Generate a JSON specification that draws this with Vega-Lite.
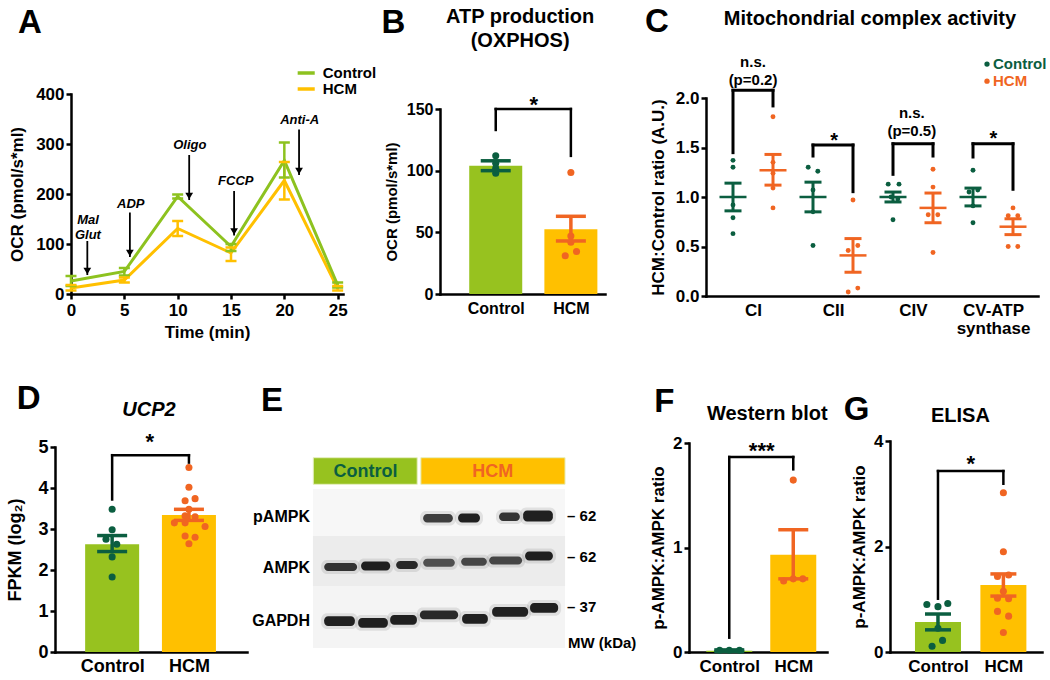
{
"$schema": "https://vega.github.io/schema/vega-lite/v6.json",
"padding": {"left": 6, "top": 5, "right": 0, "bottom": 0},
"background": "white",
"bounds": "flush",
"spacing": 346,
"resolve": {"scale": {"color": "independent", "fill": "independent", "opacity": "independent"}},
"datasets": {
"A": [
{"t":0,"group":"HCM","m":12,"lo":7,"hi":18},
{"t":5,"group":"HCM","m":28,"lo":23,"hi":33},
{"t":10,"group":"HCM","m":131,"lo":116,"hi":146},
{"t":15,"group":"HCM","m":82,"lo":66,"hi":93},
{"t":20,"group":"HCM","m":227,"lo":189,"hi":264},
{"t":25,"group":"HCM","m":11,"lo":7,"hi":16},
{"t":0,"group":"Control","m":26,"lo":16,"hi":36},
{"t":5,"group":"Control","m":45,"lo":37,"hi":52},
{"t":10,"group":"Control","m":195,"lo":191,"hi":199},
{"t":15,"group":"Control","m":95,"lo":86,"hi":100},
{"t":20,"group":"Control","m":267,"lo":233,"hi":303},
{"t":25,"group":"Control","m":18,"lo":13,"hi":23}
],
"A_arr": [
{"t":1.53,"top":106,"tip":38},{"t":5.52,"top":163,"tip":74},{"t":11.08,"top":278,"tip":188},{"t":15.29,"top":206,"tip":117},{"t":21.38,"top":329,"tip":238}
],
"A_lab": [
{"t":1.59,"y":149,"label":"Mal"},{"t":1.59,"y":119,"label":"Glut"},{"t":5.6,"y":181,"label":"ADP"},{"t":11.14,"y":298,"label":"Oligo"},{"t":15.45,"y":226,"label":"FCCP"},{"t":21.44,"y":349,"label":"Anti-A"}
],
"B_bar": [{"g":1,"group":"Control","m":104,"lo":100,"hi":108},{"g":2,"group":"HCM","m":52.5,"lo":43,"hi":63}],
"B_pts": [
{"g":1,"group":"Control","v":112},{"g":1,"group":"Control","v":106},{"g":1,"group":"Control","v":102},{"g":1,"group":"Control","v":98},
{"g":2,"group":"HCM","v":98.5},{"g":2,"group":"HCM","v":47},{"g":2,"group":"HCM","v":42},{"g":2.075,"group":"HCM","v":34.5},{"g":1.925,"group":"HCM","v":31}
],
"B_br": [{"x":1,"x2":1,"y":133,"y2":150},{"x":1,"x2":2,"y":150,"y2":150},{"x":2,"x2":2,"y":150,"y2":112}],
"C_sum": [
{"x":1,"group":"Control","m":1.0,"lo":0.86,"hi":1.14},{"x":2,"group":"HCM","m":1.27,"lo":1.12,"hi":1.43},
{"x":3,"group":"Control","m":1.0,"lo":0.85,"hi":1.15},{"x":4,"group":"HCM","m":0.41,"lo":0.24,"hi":0.58},
{"x":5,"group":"Control","m":1.0,"lo":0.95,"hi":1.05},{"x":6,"group":"HCM","m":0.89,"lo":0.74,"hi":1.04},
{"x":7,"group":"Control","m":1.0,"lo":0.91,"hi":1.09},{"x":8,"group":"HCM","m":0.70,"lo":0.62,"hi":0.78}
],
"C_pts": [
{"x":1,"group":"Control","v":1.37},{"x":1,"group":"Control","v":1.30},{"x":1,"group":"Control","v":0.92},{"x":1,"group":"Control","v":0.79},{"x":1,"group":"Control","v":0.63},
{"x":2,"group":"HCM","v":1.81},{"x":2,"group":"HCM","v":1.35},{"x":2,"group":"HCM","v":1.24},{"x":2,"group":"HCM","v":1.09},{"x":2,"group":"HCM","v":0.89},
{"x":2.88,"group":"Control","v":1.30},{"x":3.12,"group":"Control","v":1.26},{"x":3,"group":"Control","v":1.07},{"x":3,"group":"Control","v":0.85},{"x":3,"group":"Control","v":0.51},
{"x":4,"group":"HCM","v":0.97},{"x":4.12,"group":"HCM","v":0.51},{"x":3.88,"group":"HCM","v":0.46},{"x":4.12,"group":"HCM","v":0.08},{"x":3.88,"group":"HCM","v":0.04},
{"x":4.88,"group":"Control","v":1.13},{"x":5.15,"group":"Control","v":1.13},{"x":4.95,"group":"Control","v":1.0},{"x":5.12,"group":"Control","v":0.98},{"x":5,"group":"Control","v":0.77},
{"x":6,"group":"HCM","v":1.28},{"x":6,"group":"HCM","v":1.10},{"x":5.88,"group":"HCM","v":0.82},{"x":6.12,"group":"HCM","v":0.82},{"x":6,"group":"HCM","v":0.44},
{"x":7,"group":"Control","v":1.27},{"x":6.9,"group":"Control","v":1.05},{"x":7.12,"group":"Control","v":1.07},{"x":7,"group":"Control","v":0.91},{"x":7,"group":"Control","v":0.74},
{"x":8,"group":"HCM","v":0.89},{"x":7.88,"group":"HCM","v":0.81},{"x":8.12,"group":"HCM","v":0.81},{"x":7.88,"group":"HCM","v":0.50},{"x":8.12,"group":"HCM","v":0.50}
],
"C_br": [
{"x":1,"x2":1,"y":1.448,"y2":2.078},{"x":1,"x2":2,"y":2.078,"y2":2.078},{"x":2,"x2":2,"y":2.078,"y2":1.92},
{"x":3,"x2":3,"y":1.414,"y2":1.525},{"x":3,"x2":4,"y":1.525,"y2":1.525},{"x":4,"x2":4,"y":1.525,"y2":1.054},
{"x":5,"x2":5,"y":1.229,"y2":1.538},{"x":5,"x2":6,"y":1.538,"y2":1.538},{"x":6,"x2":6,"y":1.538,"y2":1.414},
{"x":7,"x2":7,"y":1.404,"y2":1.538},{"x":7,"x2":8,"y":1.538,"y2":1.538},{"x":8,"x2":8,"y":1.538,"y2":1.078}
],
"D_bar": [{"g":1,"group":"Control","m":2.63,"lo":2.45,"hi":2.84},{"g":2,"group":"HCM","m":3.34,"lo":3.21,"hi":3.48}],
"D_pts": [
{"g":1,"group":"Control","v":3.48},{"g":1,"group":"Control","v":2.98},{"g":0.92,"group":"Control","v":2.75},{"g":1.06,"group":"Control","v":2.63},{"g":1,"group":"Control","v":2.32},{"g":1,"group":"Control","v":1.83},
{"g":2,"group":"HCM","v":4.50},{"g":2,"group":"HCM","v":4.02},{"g":2.08,"group":"HCM","v":3.74},{"g":1.95,"group":"HCM","v":3.69},{"g":2,"group":"HCM","v":3.48},{"g":1.95,"group":"HCM","v":3.32},{"g":2.08,"group":"HCM","v":3.30},{"g":1.81,"group":"HCM","v":3.15},{"g":1.95,"group":"HCM","v":3.15},{"g":2.21,"group":"HCM","v":3.06},{"g":1.95,"group":"HCM","v":2.83},{"g":2.08,"group":"HCM","v":2.80},{"g":2,"group":"HCM","v":2.64}
],
"D_br": [{"x":1,"x2":1,"y":3.72,"y2":4.80},{"x":1,"x2":2,"y":4.80,"y2":4.80},{"x":2,"x2":2,"y":4.80,"y2":4.62}],
"F_bar": [{"g":1,"group":"Control","m":0.012,"lo":0.005,"hi":0.02},{"g":2,"group":"HCM","m":0.93,"lo":0.70,"hi":1.17}],
"F_pts": [
{"g":0.85,"group":"Control","v":0.016},{"g":1,"group":"Control","v":0.016},{"g":1.16,"group":"Control","v":0.016},
{"g":2,"group":"HCM","v":1.645},{"g":1.85,"group":"HCM","v":0.68},{"g":2.15,"group":"HCM","v":0.70},{"g":2,"group":"HCM","v":0.70}
],
"F_br": [{"x":1,"x2":1,"y":0.137,"y2":1.866},{"x":1,"x2":2,"y":1.866,"y2":1.866},{"x":2,"x2":2,"y":1.866,"y2":1.748}],
"G_bar": [{"g":1,"group":"Control","m":0.57,"lo":0.42,"hi":0.72},{"g":2,"group":"HCM","m":1.27,"lo":1.06,"hi":1.48}],
"G_pts": [
{"g":0.83,"group":"Control","v":0.90},{"g":1,"group":"Control","v":0.86},{"g":1.15,"group":"Control","v":0.92},{"g":1,"group":"Control","v":0.45},{"g":1.07,"group":"Control","v":0.22},{"g":0.91,"group":"Control","v":0.11},
{"g":2,"group":"HCM","v":3.02},{"g":2,"group":"HCM","v":1.90},{"g":1.91,"group":"HCM","v":1.43},{"g":2.08,"group":"HCM","v":1.46},{"g":2,"group":"HCM","v":1.15},{"g":1.91,"group":"HCM","v":1.02},{"g":2.08,"group":"HCM","v":1.01},{"g":1.91,"group":"HCM","v":0.77},{"g":2.08,"group":"HCM","v":0.68},{"g":2,"group":"HCM","v":0.37}
],
"G_br": [{"x":1,"x2":1,"y":1.01,"y2":3.43},{"x":1,"x2":2,"y":3.43,"y2":3.43},{"x":2,"x2":2,"y":3.43,"y2":3.19}],
"E_bg": [
{"sec":"pAMPK","x0":0.18,"x1":7.82,"y0":23.1,"y1":45.3},
{"sec":"AMPK","x0":0.18,"x1":7.82,"y0":45.3,"y1":68.9},
{"sec":"GAPDH","x0":0.18,"x1":7.82,"y0":68.9,"y1":98.1}
],
"E_hdr": [
{"group":"Control","x0":0.19,"x1":3.34,"y0":8.35,"y1":20.9,"xc":1.77},
{"group":"HCM","x0":3.45,"x1":7.82,"y0":8.35,"y1":20.9,"xc":5.63}
],
"E_bands": [
{"row":"pAMPK","x0":3.52,"x1":4.42,"y0":34.9,"y1":38.9,"i":0.8},
{"row":"pAMPK","x0":4.58,"x1":5.24,"y0":34.7,"y1":38.9,"i":0.95},
{"row":"pAMPK","x0":5.82,"x1":6.45,"y0":34.2,"y1":38.2,"i":0.85},
{"row":"pAMPK","x0":6.55,"x1":7.45,"y0":33.2,"y1":38.4,"i":0.95},
{"row":"AMPK","x0":0.52,"x1":1.52,"y0":58.0,"y1":61.8,"i":0.85},
{"row":"AMPK","x0":1.64,"x1":2.52,"y0":57.3,"y1":61.5,"i":0.95},
{"row":"AMPK","x0":2.70,"x1":3.36,"y0":57.1,"y1":60.9,"i":0.9},
{"row":"AMPK","x0":3.52,"x1":4.48,"y0":56.0,"y1":59.8,"i":0.7},
{"row":"AMPK","x0":4.67,"x1":5.45,"y0":55.5,"y1":59.3,"i":0.75},
{"row":"AMPK","x0":5.52,"x1":6.52,"y0":54.9,"y1":58.7,"i":0.75},
{"row":"AMPK","x0":6.61,"x1":7.45,"y0":52.6,"y1":56.8,"i":0.95},
{"row":"GAPDH","x0":0.52,"x1":1.45,"y0":83.1,"y1":87.7,"i":0.95},
{"row":"GAPDH","x0":1.55,"x1":2.45,"y0":84.0,"y1":88.6,"i":0.95},
{"row":"GAPDH","x0":2.52,"x1":3.33,"y0":82.6,"y1":87.2,"i":0.95},
{"row":"GAPDH","x0":3.42,"x1":4.58,"y0":80.4,"y1":84.6,"i":0.9},
{"row":"GAPDH","x0":4.70,"x1":5.48,"y0":82.1,"y1":86.7,"i":0.95},
{"row":"GAPDH","x0":5.61,"x1":6.70,"y0":78.8,"y1":83.4,"i":0.95},
{"row":"GAPDH","x0":6.76,"x1":7.61,"y0":76.9,"y1":81.5,"i":0.95}
]
},
"vconcat": [
{"bounds": "flush", "spacing": 0, "resolve": {"scale": {"color": "independent", "fill": "independent", "opacity": "independent"}}, "hconcat": [
 {"width": 16, "height": 10, "data": {"values": [{"a": 1}]}, "mark": {"type": "text", "text": ""}, "encoding": {}},
 {"width": 369, "height": 200, "layer": [
  {"data": {"name": "A"}, "mark": {"type": "line", "strokeWidth": 3},
   "encoding": {
    "x": {"field": "t", "type": "quantitative", "scale": {"domain": [0, 25.5], "range": [0, 272], "nice": false, "zero": false}, "axis": {"values": [0,5,10,15,20,25], "labelExpr": "toString(datum.value)", "title": "Time (min)", "labelFontSize": 17, "titleFontSize": 17, "labelPadding": 3, "titlePadding": 6}},
    "y": {"field": "m", "type": "quantitative", "scale": {"domain": [0, 400], "range": [200, 0], "nice": false}, "axis": {"values": [0,100,200,300,400], "labelExpr": "toString(datum.value)", "title": "OCR (pmol/s*ml)", "labelFontSize": 17, "titleFontSize": 17, "titlePadding": 9}},
    "color": {"field": "group", "type": "nominal", "scale": {"domain": ["Control", "HCM"], "range": ["#8dc21f", "#ffc000"]}, "legend": null}
   }},
  {"data": {"name": "A"}, "mark": {"type": "rule", "strokeWidth": 2.5},
   "encoding": {"x": {"field": "t", "type": "quantitative"}, "y": {"field": "lo", "type": "quantitative"}, "y2": {"field": "hi"}, "color": {"field": "group", "type": "nominal"}}},
  {"data": {"name": "A"}, "mark": {"type": "tick", "orient": "horizontal", "size": 11, "thickness": 2.5, "opacity": 1},
   "encoding": {"x": {"field": "t", "type": "quantitative"}, "y": {"field": "lo", "type": "quantitative"}, "color": {"field": "group", "type": "nominal"}}},
  {"data": {"name": "A"}, "mark": {"type": "tick", "orient": "horizontal", "size": 11, "thickness": 2.5, "opacity": 1},
   "encoding": {"x": {"field": "t", "type": "quantitative"}, "y": {"field": "hi", "type": "quantitative"}, "color": {"field": "group", "type": "nominal"}}},
  {"data": {"name": "A_arr"}, "mark": {"type": "rule", "strokeWidth": 1.8, "color": "#000"},
   "encoding": {"x": {"field": "t", "type": "quantitative"}, "y": {"field": "top", "type": "quantitative"}, "y2": {"field": "tip"}}},
  {"data": {"name": "A_arr"}, "mark": {"type": "point", "shape": "triangle-down", "filled": true, "size": 60, "color": "#000", "opacity": 1, "yOffset": -4},
   "encoding": {"x": {"field": "t", "type": "quantitative"}, "y": {"field": "tip", "type": "quantitative"}}},
  {"data": {"name": "A_lab"}, "mark": {"type": "text", "fontSize": 13, "fontStyle": "italic"},
   "encoding": {"x": {"field": "t", "type": "quantitative"}, "y": {"field": "y", "type": "quantitative"}, "text": {"field": "label"}}},
  {"data": {"values": [{"group": "Control", "y": 442}, {"group": "HCM", "y": 410}]}, "mark": {"type": "rule", "strokeWidth": 3.5},
   "encoding": {"x": {"datum": 21.25}, "x2": {"datum": 22.85}, "y": {"field": "y", "type": "quantitative"}, "color": {"field": "group", "type": "nominal"}}},
  {"data": {"values": [{"group": "Control", "y": 442}, {"group": "HCM", "y": 410}]}, "mark": {"type": "text", "fontSize": 15, "align": "left"},
   "encoding": {"x": {"datum": 23.6}, "y": {"field": "y", "type": "quantitative"}, "text": {"field": "group"}}},
  {"data": {"values": [{"label": "A"}]}, "mark": {"type": "text", "fontSize": 33},
   "encoding": {"x": {"datum": -3.84}, "y": {"datum": 542}, "text": {"field": "label"}}}
 ]},
 {"width": 266, "height": 200, "layer": [
  {"data": {"name": "B_bar"}, "mark": {"type": "bar", "size": 53, "orient": "vertical"},
   "encoding": {
    "x": {"field": "g", "type": "quantitative", "scale": {"domain": [0.325, 2.3875], "range": [0, 165], "nice": false, "zero": false}, "axis": {"values": [1, 2], "labelExpr": "datum.value == 1 ? 'Control' : 'HCM'", "ticks": false, "title": null, "labelFontSize": 16, "labelPadding": 6}},
    "y": {"field": "m", "type": "quantitative", "scale": {"domain": [0, 150], "range": [200, 15], "nice": false}, "axis": {"values": [0, 50, 100, 150], "labelExpr": "toString(datum.value)", "title": "OCR (pmol/s*ml)", "labelFontSize": 16, "titleFontSize": 15, "titlePadding": 7}},
    "fill": {"field": "group", "type": "nominal", "scale": {"domain": ["Control", "HCM"], "range": ["#97c21f", "#ffc000"]}, "legend": null}
   }},
  {"data": {"name": "B_pts"}, "mark": {"type": "circle", "size": 50, "opacity": 1},
   "encoding": {"x": {"field": "g", "type": "quantitative"}, "y": {"field": "v", "type": "quantitative"}, "color": {"field": "group", "type": "nominal", "scale": {"domain": ["Control", "HCM"], "range": ["#0b5e40", "#f06522"]}, "legend": null}}},
  {"data": {"name": "B_bar"}, "mark": {"type": "rule", "strokeWidth": 3.5},
   "encoding": {"x": {"field": "g", "type": "quantitative"}, "y": {"field": "lo", "type": "quantitative"}, "y2": {"field": "hi"}, "color": {"field": "group", "type": "nominal"}}},
  {"data": {"name": "B_bar"}, "mark": {"type": "tick", "orient": "horizontal", "size": 30, "thickness": 3.5, "opacity": 1},
   "encoding": {"x": {"field": "g", "type": "quantitative"}, "y": {"field": "lo", "type": "quantitative"}, "color": {"field": "group", "type": "nominal"}}},
  {"data": {"name": "B_bar"}, "mark": {"type": "tick", "orient": "horizontal", "size": 30, "thickness": 3.5, "opacity": 1},
   "encoding": {"x": {"field": "g", "type": "quantitative"}, "y": {"field": "hi", "type": "quantitative"}, "color": {"field": "group", "type": "nominal"}}},
  {"data": {"name": "B_br"}, "mark": {"type": "rule", "strokeWidth": 2.5, "color": "#000", "strokeCap": "square"},
   "encoding": {"x": {"field": "x", "type": "quantitative"}, "x2": {"field": "x2"}, "y": {"field": "y", "type": "quantitative"}, "y2": {"field": "y2"}}},
  {"data": {"values": [{"x": 1.506, "y": 147.6, "label": "*"}]}, "mark": {"type": "text", "fontSize": 22, "baseline": "alphabetic"},
   "encoding": {"x": {"field": "x", "type": "quantitative"}, "y": {"field": "y", "type": "quantitative"}, "text": {"field": "label"}}},
  {"data": {"values": [{"x": 1.325, "y": 224.6, "label": "ATP production"}, {"x": 1.325, "y": 205.1, "label": "(OXPHOS)"}]}, "mark": {"type": "text", "fontSize": 20},
   "encoding": {"x": {"field": "x", "type": "quantitative"}, "y": {"field": "y", "type": "quantitative"}, "text": {"field": "label"}}},
  {"data": {"values": [{"label": "B"}]}, "mark": {"type": "text", "fontSize": 33},
   "encoding": {"x": {"datum": -0.3625}, "y": {"datum": 219.7}, "text": {"field": "label"}}}
 ]},
 {"width": 332, "height": 202, "layer": [
  {"data": {"name": "C_pts"}, "mark": {"type": "circle", "size": 24, "opacity": 1},
   "encoding": {
    "x": {"field": "x", "type": "quantitative", "scale": {"domain": [0.325, 8.625], "range": [0, 332], "nice": false, "zero": false}, "axis": {"values": [1.5, 3.5, 5.5, 7.5], "labelExpr": "datum.value < 2 ? 'CI' : datum.value < 4 ? 'CII' : datum.value < 6 ? 'CIV' : ['CV-ATP', 'synthase']", "ticks": false, "title": null, "labelFontSize": 17, "labelPadding": 6, "labelLineHeight": 18}},
    "y": {"field": "v", "type": "quantitative", "scale": {"domain": [0, 2], "range": [202, 4], "nice": false}, "axis": {"values": [0, 0.5, 1, 1.5, 2], "format": ".1f", "title": "HCM:Control ratio (A.U.)", "labelFontSize": 17, "titleFontSize": 17, "titlePadding": 8}},
    "color": {"field": "group", "type": "nominal", "scale": {"domain": ["Control", "HCM"], "range": ["#0b5e40", "#f06522"]}, "legend": null}
   }},
  {"data": {"name": "C_sum"}, "mark": {"type": "tick", "orient": "horizontal", "size": 27, "thickness": 2.5, "opacity": 1},
   "encoding": {"x": {"field": "x", "type": "quantitative"}, "y": {"field": "m", "type": "quantitative"}, "color": {"field": "group", "type": "nominal"}}},
  {"data": {"name": "C_sum"}, "mark": {"type": "rule", "strokeWidth": 3},
   "encoding": {"x": {"field": "x", "type": "quantitative"}, "y": {"field": "lo", "type": "quantitative"}, "y2": {"field": "hi"}, "color": {"field": "group", "type": "nominal"}}},
  {"data": {"name": "C_sum"}, "mark": {"type": "tick", "orient": "horizontal", "size": 17, "thickness": 3, "opacity": 1},
   "encoding": {"x": {"field": "x", "type": "quantitative"}, "y": {"field": "lo", "type": "quantitative"}, "color": {"field": "group", "type": "nominal"}}},
  {"data": {"name": "C_sum"}, "mark": {"type": "tick", "orient": "horizontal", "size": 17, "thickness": 3, "opacity": 1},
   "encoding": {"x": {"field": "x", "type": "quantitative"}, "y": {"field": "hi", "type": "quantitative"}, "color": {"field": "group", "type": "nominal"}}},
  {"data": {"name": "C_br"}, "mark": {"type": "rule", "strokeWidth": 3, "color": "#000", "strokeCap": "square"},
   "encoding": {"x": {"field": "x", "type": "quantitative"}, "x2": {"field": "x2"}, "y": {"field": "y", "type": "quantitative"}, "y2": {"field": "y2"}}},
  {"data": {"values": [{"x": 1.5, "y": 2.367, "label": "n.s."}, {"x": 1.5, "y": 2.18, "label": "(p=0.2)"}, {"x": 5.47, "y": 1.85, "label": "n.s."}, {"x": 5.47, "y": 1.667, "label": "(p=0.5)"}]}, "mark": {"type": "text", "fontSize": 15},
   "encoding": {"x": {"field": "x", "type": "quantitative"}, "y": {"field": "y", "type": "quantitative"}, "text": {"field": "label"}}},
  {"data": {"values": [{"x": 3.53, "y": 1.505, "label": "*"}, {"x": 7.51, "y": 1.53, "label": "*"}]}, "mark": {"type": "text", "fontSize": 20, "baseline": "alphabetic"},
   "encoding": {"x": {"field": "x", "type": "quantitative"}, "y": {"field": "y", "type": "quantitative"}, "text": {"field": "label"}}},
  {"data": {"values": [{"group": "Control", "y": 2.343}, {"group": "HCM", "y": 2.17}]}, "mark": {"type": "circle", "size": 28, "opacity": 1},
   "encoding": {"x": {"datum": 7.35}, "y": {"field": "y", "type": "quantitative"}, "color": {"field": "group", "type": "nominal"}}},
  {"data": {"values": [{"group": "Control", "y": 2.343}, {"group": "HCM", "y": 2.17}]}, "mark": {"type": "text", "fontSize": 15, "align": "left"},
   "encoding": {"x": {"datum": 7.5}, "y": {"field": "y", "type": "quantitative"}, "text": {"field": "group"}, "color": {"field": "group", "type": "nominal"}}},
  {"data": {"values": [{"label": "Mitochondrial complex activity"}]}, "mark": {"type": "text", "fontSize": 20},
   "encoding": {"x": {"datum": 4.425}, "y": {"datum": 2.798}, "text": {"field": "label"}}},
  {"data": {"values": [{"label": "C"}]}, "mark": {"type": "text", "fontSize": 33},
   "encoding": {"x": {"datum": -0.9}, "y": {"datum": 2.768}, "text": {"field": "label"}}}
 ]}
]},
{"bounds": "flush", "spacing": 0, "resolve": {"scale": {"color": "independent", "fill": "independent", "opacity": "independent"}}, "hconcat": [
 {"width": 258, "height": 212, "layer": [
  {"data": {"name": "D_bar"}, "mark": {"type": "bar", "size": 54, "orient": "vertical"},
   "encoding": {
    "x": {"field": "g", "type": "quantitative", "scale": {"domain": [0.321, 2.691], "range": [0, 192], "nice": false, "zero": false}, "axis": {"values": [1, 2], "labelExpr": "datum.value == 1 ? 'Control' : 'HCM'", "ticks": false, "title": null, "labelFontSize": 18, "labelPadding": 5}},
    "y": {"field": "m", "type": "quantitative", "scale": {"domain": [0, 5], "range": [212, 7], "nice": false}, "axis": {"values": [0, 1, 2, 3, 4, 5], "labelExpr": "toString(datum.value)", "title": "FPKM (log₂)", "labelFontSize": 18, "titleFontSize": 18, "titlePadding": 13}},
    "fill": {"field": "group", "type": "nominal", "scale": {"domain": ["Control", "HCM"], "range": ["#97c21f", "#ffc000"]}, "legend": null}
   }},
  {"data": {"name": "D_pts"}, "mark": {"type": "circle", "size": 50, "opacity": 1},
   "encoding": {"x": {"field": "g", "type": "quantitative"}, "y": {"field": "v", "type": "quantitative"}, "color": {"field": "group", "type": "nominal", "scale": {"domain": ["Control", "HCM"], "range": ["#0b5e40", "#f06522"]}, "legend": null}}},
  {"data": {"name": "D_bar"}, "mark": {"type": "rule", "strokeWidth": 3.5},
   "encoding": {"x": {"field": "g", "type": "quantitative"}, "y": {"field": "lo", "type": "quantitative"}, "y2": {"field": "hi"}, "color": {"field": "group", "type": "nominal"}}},
  {"data": {"name": "D_bar"}, "mark": {"type": "tick", "orient": "horizontal", "size": 30, "thickness": 3.5, "opacity": 1},
   "encoding": {"x": {"field": "g", "type": "quantitative"}, "y": {"field": "lo", "type": "quantitative"}, "color": {"field": "group", "type": "nominal"}}},
  {"data": {"name": "D_bar"}, "mark": {"type": "tick", "orient": "horizontal", "size": 30, "thickness": 3.5, "opacity": 1},
   "encoding": {"x": {"field": "g", "type": "quantitative"}, "y": {"field": "hi", "type": "quantitative"}, "color": {"field": "group", "type": "nominal"}}},
  {"data": {"name": "D_br"}, "mark": {"type": "rule", "strokeWidth": 2.5, "color": "#000", "strokeCap": "square"},
   "encoding": {"x": {"field": "x", "type": "quantitative"}, "x2": {"field": "x2"}, "y": {"field": "y", "type": "quantitative"}, "y2": {"field": "y2"}}},
  {"data": {"values": [{"x": 1.49, "y": 4.94, "label": "*"}]}, "mark": {"type": "text", "fontSize": 22, "baseline": "alphabetic"},
   "encoding": {"x": {"field": "x", "type": "quantitative"}, "y": {"field": "y", "type": "quantitative"}, "text": {"field": "label"}}},
  {"data": {"values": [{"label": "UCP2"}]}, "mark": {"type": "text", "fontSize": 20, "fontStyle": "italic"},
   "encoding": {"x": {"datum": 1.48}, "y": {"datum": 5.9}, "text": {"field": "label"}}},
  {"data": {"values": [{"label": "D"}]}, "mark": {"type": "text", "fontSize": 33},
   "encoding": {"x": {"datum": -0.086}, "y": {"datum": 6.17}, "text": {"field": "label"}}}
 ]},
 {"width": 376, "height": 212, "layer": [
  {"data": {"name": "E_bg"}, "mark": {"type": "rect"},
   "encoding": {
    "x": {"field": "x0", "type": "quantitative", "scale": {"domain": [0.1818, 11.576], "range": [0, 376], "nice": false, "zero": false}, "axis": null},
    "x2": {"field": "x1"},
    "y": {"field": "y0", "type": "quantitative", "scale": {"domain": [0, 100], "range": [0, 212], "nice": false, "zero": false}, "axis": null},
    "y2": {"field": "y1"},
    "fill": {"field": "sec", "type": "nominal", "scale": {"domain": ["pAMPK", "AMPK", "GAPDH", "Control", "HCM"], "range": ["#f7f7f7", "#ececec", "#f4f4f4", "#97c21f", "#ffc000"]}, "legend": null}
   }},
  {"data": {"name": "E_hdr"}, "mark": {"type": "rect", "stroke": "#e6efc0", "strokeWidth": 1},
   "encoding": {"x": {"field": "x0", "type": "quantitative"}, "x2": {"field": "x1"}, "y": {"field": "y0", "type": "quantitative"}, "y2": {"field": "y1"}, "fill": {"field": "group", "type": "nominal"}}},
  {"data": {"name": "E_hdr"}, "mark": {"type": "text", "fontSize": 18},
   "encoding": {"x": {"field": "xc", "type": "quantitative"}, "y": {"datum": 15}, "text": {"field": "group"}, "color": {"field": "group", "type": "nominal", "scale": {"domain": ["Control", "HCM"], "range": ["#0b5e40", "#f06522"]}, "legend": null}}},
  {"data": {"name": "E_bands"}, "mark": {"type": "rect", "fill": "#444", "opacity": 0.12, "cornerRadius": 6, "xOffset": -3, "x2Offset": 3, "yOffset": -3, "y2Offset": 3},
   "encoding": {"x": {"field": "x0", "type": "quantitative"}, "x2": {"field": "x1"}, "y": {"field": "y0", "type": "quantitative"}, "y2": {"field": "y1"}}},
  {"data": {"name": "E_bands"}, "mark": {"type": "rect", "fill": "#151515", "cornerRadius": 4},
   "encoding": {"x": {"field": "x0", "type": "quantitative"}, "x2": {"field": "x1"}, "y": {"field": "y0", "type": "quantitative"}, "y2": {"field": "y1"}, "opacity": {"field": "i", "type": "quantitative", "scale": {"domain": [0, 1], "range": [0, 1]}, "legend": null}}},
  {"data": {"values": [{"label": "pAMPK", "y": 36.3}, {"label": "AMPK", "y": 60.4}, {"label": "GAPDH", "y": 85.4}]}, "mark": {"type": "text", "fontSize": 16, "align": "right"},
   "encoding": {"x": {"datum": 0.09}, "y": {"field": "y", "type": "quantitative"}, "text": {"field": "label"}}},
  {"data": {"values": [{"label": "– 62", "y": 35.8}, {"label": "– 62", "y": 55.2}, {"label": "– 37", "y": 78.8}]}, "mark": {"type": "text", "fontSize": 15, "align": "left"},
   "encoding": {"x": {"datum": 7.88}, "y": {"field": "y", "type": "quantitative"}, "text": {"field": "label"}}},
  {"data": {"values": [{"label": "MW (kDa)"}]}, "mark": {"type": "text", "fontSize": 15, "align": "left"},
   "encoding": {"x": {"datum": 7.91}, "y": {"datum": 95.8}, "text": {"field": "label"}}},
  {"data": {"values": [{"label": "E"}]}, "mark": {"type": "text", "fontSize": 33},
   "encoding": {"x": {"datum": -1.06}, "y": {"datum": -18.4}, "text": {"field": "label"}}}
 ]},
 {"width": 201, "height": 212, "layer": [
  {"data": {"name": "F_bar"}, "mark": {"type": "bar", "size": 46, "orient": "vertical"},
   "encoding": {
    "x": {"field": "g", "type": "quantitative", "scale": {"domain": [0.449, 2.449], "range": [0, 138], "nice": false, "zero": false}, "axis": {"values": [1, 2], "labelExpr": "datum.value == 1 ? 'Control' : 'HCM'", "ticks": false, "title": null, "labelFontSize": 17, "labelPadding": 6}},
    "y": {"field": "m", "type": "quantitative", "scale": {"domain": [0, 2], "range": [212, 3], "nice": false}, "axis": {"values": [0, 1, 2], "labelExpr": "toString(datum.value)", "title": "p-AMPK:AMPK ratio", "labelFontSize": 17, "titleFontSize": 17, "titlePadding": 5}},
    "fill": {"field": "group", "type": "nominal", "scale": {"domain": ["Control", "HCM"], "range": ["#97c21f", "#ffc000"]}, "legend": null}
   }},
  {"data": {"name": "F_pts"}, "mark": {"type": "circle", "size": 50, "opacity": 1},
   "encoding": {"x": {"field": "g", "type": "quantitative"}, "y": {"field": "v", "type": "quantitative"}, "color": {"field": "group", "type": "nominal", "scale": {"domain": ["Control", "HCM"], "range": ["#0b5e40", "#f06522"]}, "legend": null}}},
  {"data": {"name": "F_bar"}, "mark": {"type": "rule", "strokeWidth": 3.5},
   "encoding": {"x": {"field": "g", "type": "quantitative"}, "y": {"field": "lo", "type": "quantitative"}, "y2": {"field": "hi"}, "color": {"field": "group", "type": "nominal"}}},
  {"data": {"name": "F_bar"}, "mark": {"type": "tick", "orient": "horizontal", "size": 30, "thickness": 3.5, "opacity": 1},
   "encoding": {"x": {"field": "g", "type": "quantitative"}, "y": {"field": "lo", "type": "quantitative"}, "color": {"field": "group", "type": "nominal"}}},
  {"data": {"name": "F_bar"}, "mark": {"type": "tick", "orient": "horizontal", "size": 30, "thickness": 3.5, "opacity": 1},
   "encoding": {"x": {"field": "g", "type": "quantitative"}, "y": {"field": "hi", "type": "quantitative"}, "color": {"field": "group", "type": "nominal"}}},
  {"data": {"name": "F_br"}, "mark": {"type": "rule", "strokeWidth": 2.5, "color": "#000", "strokeCap": "square"},
   "encoding": {"x": {"field": "x", "type": "quantitative"}, "x2": {"field": "x2"}, "y": {"field": "y", "type": "quantitative"}, "y2": {"field": "y2"}}},
  {"data": {"values": [{"x": 1.507, "y": 1.856, "label": "***"}]}, "mark": {"type": "text", "fontSize": 22, "baseline": "alphabetic"},
   "encoding": {"x": {"field": "x", "type": "quantitative"}, "y": {"field": "y", "type": "quantitative"}, "text": {"field": "label"}}},
  {"data": {"values": [{"label": "Western blot"}]}, "mark": {"type": "text", "fontSize": 20},
   "encoding": {"x": {"datum": 1.594}, "y": {"datum": 2.278}, "text": {"field": "label"}}},
  {"data": {"values": [{"label": "F"}]}, "mark": {"type": "text", "fontSize": 33},
   "encoding": {"x": {"datum": -0.014}, "y": {"datum": 2.392}, "text": {"field": "label"}}}
 ]},
 {"width": 160, "height": 212, "layer": [
  {"data": {"name": "G_bar"}, "mark": {"type": "bar", "size": 46, "orient": "vertical"},
   "encoding": {
    "x": {"field": "g", "type": "quantitative", "scale": {"domain": [0.343, 2.514], "range": [0, 152], "nice": false, "zero": false}, "axis": {"values": [1, 2], "labelExpr": "datum.value == 1 ? 'Control' : 'HCM'", "ticks": false, "title": null, "labelFontSize": 17, "labelPadding": 6}},
    "y": {"field": "m", "type": "quantitative", "scale": {"domain": [0, 4], "range": [212, 1], "nice": false}, "axis": {"values": [0, 2, 4], "labelExpr": "toString(datum.value)", "title": "p-AMPK:AMPK ratio", "labelFontSize": 17, "titleFontSize": 17, "titlePadding": 5}},
    "fill": {"field": "group", "type": "nominal", "scale": {"domain": ["Control", "HCM"], "range": ["#97c21f", "#ffc000"]}, "legend": null}
   }},
  {"data": {"name": "G_pts"}, "mark": {"type": "circle", "size": 50, "opacity": 1},
   "encoding": {"x": {"field": "g", "type": "quantitative"}, "y": {"field": "v", "type": "quantitative"}, "color": {"field": "group", "type": "nominal", "scale": {"domain": ["Control", "HCM"], "range": ["#0b5e40", "#f06522"]}, "legend": null}}},
  {"data": {"name": "G_bar"}, "mark": {"type": "rule", "strokeWidth": 3.5},
   "encoding": {"x": {"field": "g", "type": "quantitative"}, "y": {"field": "lo", "type": "quantitative"}, "y2": {"field": "hi"}, "color": {"field": "group", "type": "nominal"}}},
  {"data": {"name": "G_bar"}, "mark": {"type": "tick", "orient": "horizontal", "size": 26, "thickness": 3.5, "opacity": 1},
   "encoding": {"x": {"field": "g", "type": "quantitative"}, "y": {"field": "lo", "type": "quantitative"}, "color": {"field": "group", "type": "nominal"}}},
  {"data": {"name": "G_bar"}, "mark": {"type": "tick", "orient": "horizontal", "size": 26, "thickness": 3.5, "opacity": 1},
   "encoding": {"x": {"field": "g", "type": "quantitative"}, "y": {"field": "hi", "type": "quantitative"}, "color": {"field": "group", "type": "nominal"}}},
  {"data": {"name": "G_br"}, "mark": {"type": "rule", "strokeWidth": 2.5, "color": "#000", "strokeCap": "square"},
   "encoding": {"x": {"field": "x", "type": "quantitative"}, "x2": {"field": "x2"}, "y": {"field": "y", "type": "quantitative"}, "y2": {"field": "y2"}}},
  {"data": {"values": [{"x": 1.5, "y": 3.43, "label": "*"}]}, "mark": {"type": "text", "fontSize": 22, "baseline": "alphabetic"},
   "encoding": {"x": {"field": "x", "type": "quantitative"}, "y": {"field": "y", "type": "quantitative"}, "text": {"field": "label"}}},
  {"data": {"values": [{"label": "ELISA"}]}, "mark": {"type": "text", "fontSize": 20},
   "encoding": {"x": {"datum": 1.343}, "y": {"datum": 4.474}, "text": {"field": "label"}}},
  {"data": {"values": [{"label": "G"}]}, "mark": {"type": "text", "fontSize": 33},
   "encoding": {"x": {"datum": -0.243}, "y": {"datum": 4.59}, "text": {"field": "label"}}}
 ]}
]}
],
"config": {
 "view": {"stroke": null},
 "font": "Liberation Sans",
 "axis": {"domainColor": "#000", "domainWidth": 2.5, "tickColor": "#000", "tickWidth": 2.5, "tickSize": 5, "labelFont": "Liberation Sans", "labelFontWeight": "bold", "labelColor": "#000", "titleFont": "Liberation Sans", "titleFontWeight": "bold", "titleColor": "#000", "grid": false, "labelOverlap": false, "labelFlush": false, "domainCap": "square"},
 "text": {"font": "Liberation Sans", "fontWeight": "bold", "color": "#000"}
}
}
